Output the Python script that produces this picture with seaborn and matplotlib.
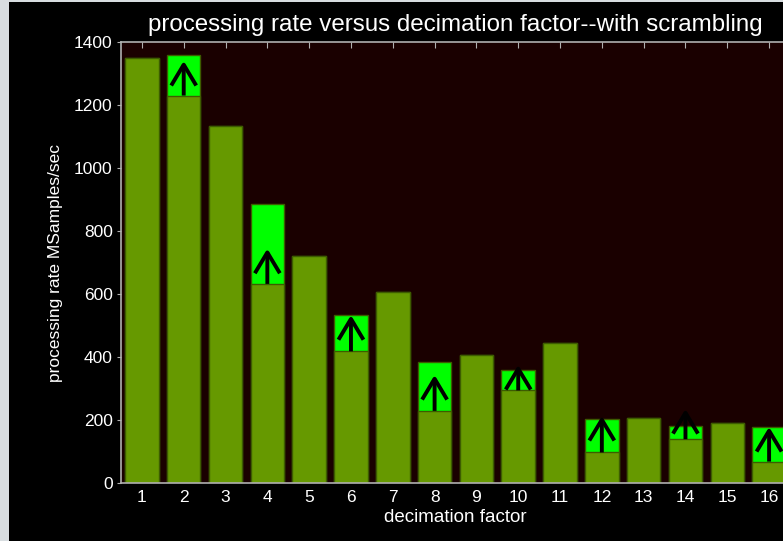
import numpy as np
import pandas as pd
import matplotlib
matplotlib.use("Agg")
import matplotlib.pyplot as plt
import matplotlib.patches as mpatches
import seaborn as sns

# decimation factor and measured rates (MSamples/sec)
factors = list(range(1, 17))
base_rate = [1348, 1230, 1133, 632, 722, 418, 606, 229, 407, 294, 445, 97, 207, 139, 189, 68]
scrambled_rate = [1348, 1358, 1133, 886, 722, 534, 606, 383, 407, 359, 445, 204, 207, 181, 189, 178]
# arrow tips drawn where scrambling helps (None = no arrow)
arrow_tip = [None, 1340, None, 744, None, 533, None, 343, None, 375, None, 213, None, 235, None, 178]
y_ticks = [0, 200, 400, 600, 800, 1000, 1200, 1400]

df = pd.DataFrame({"factor": factors, "base": base_rate, "scrambled": scrambled_rate})

sns.set_style("dark")
plt.rcParams["font.family"] = ["Liberation Sans", "DejaVu Sans"]

fig = plt.figure(figsize=(7.83, 5.41), dpi=100)
fig.patch.set_facecolor("#d8dde0")
# black panel (window border strip left/top stays grey)
fig.patches.append(mpatches.Rectangle((9 / 783, 0), 1, 1 - 2 / 541, transform=fig.transFigure,
                                      facecolor="black", edgecolor="none", zorder=-10))

ax = fig.add_axes([121 / 783, 58 / 541, 669 / 783, 441 / 541])
ax.set_facecolor("#1a0000")

# bright green = rate with scrambling, olive = rate without
sns.barplot(data=df, x="factor", y="scrambled", color="#00ff00", saturation=1, width=0.8,
            edgecolor="#3d5c00", linewidth=1, ax=ax)
sns.barplot(data=df, x="factor", y="base", color="#669900", saturation=1, width=0.8,
            edgecolor="#3d5c00", linewidth=1, ax=ax)

for i, (b, tip) in enumerate(zip(base_rate, arrow_tip)):
    if tip is None:
        continue
    ax.annotate("", xy=(i, tip), xytext=(i, b),
                arrowprops=dict(arrowstyle="->,head_length=0.75,head_width=0.45", color="black",
                                lw=2.8, mutation_scale=20, shrinkA=0, shrinkB=0,
                                capstyle="butt"), zorder=5)

ax.set_xlim(-0.5, 15.5)
ax.set_ylim(0, 1400)
ax.set_yticks(y_ticks)
ax.grid(False)

for s in ["left", "bottom", "top"]:
    ax.spines[s].set_visible(True)
    ax.spines[s].set_color("#b0b0b0")
    ax.spines[s].set_linewidth(1.2)
ax.spines["right"].set_visible(False)

ax.tick_params(axis="x", bottom=False, top=True, direction="in", length=4, color="#b0b0b0",
               labelcolor="white", labelsize=12.5, pad=5)
ax.tick_params(axis="y", left=True, direction="out", length=3, color="#b0b0b0",
               labelcolor="white", labelsize=12.5, pad=3)

ax.set_xlabel("decimation factor", color="white", fontsize=13.5, labelpad=3)
ax.set_ylabel("processing rate MSamples/sec", color="white", fontsize=12.5, labelpad=8)
ax.set_title("processing rate versus decimation factor--with scrambling", color="white",
             fontsize=17.4, pad=8)

fig.savefig("out.png", dpi=100, facecolor=fig.get_facecolor())
